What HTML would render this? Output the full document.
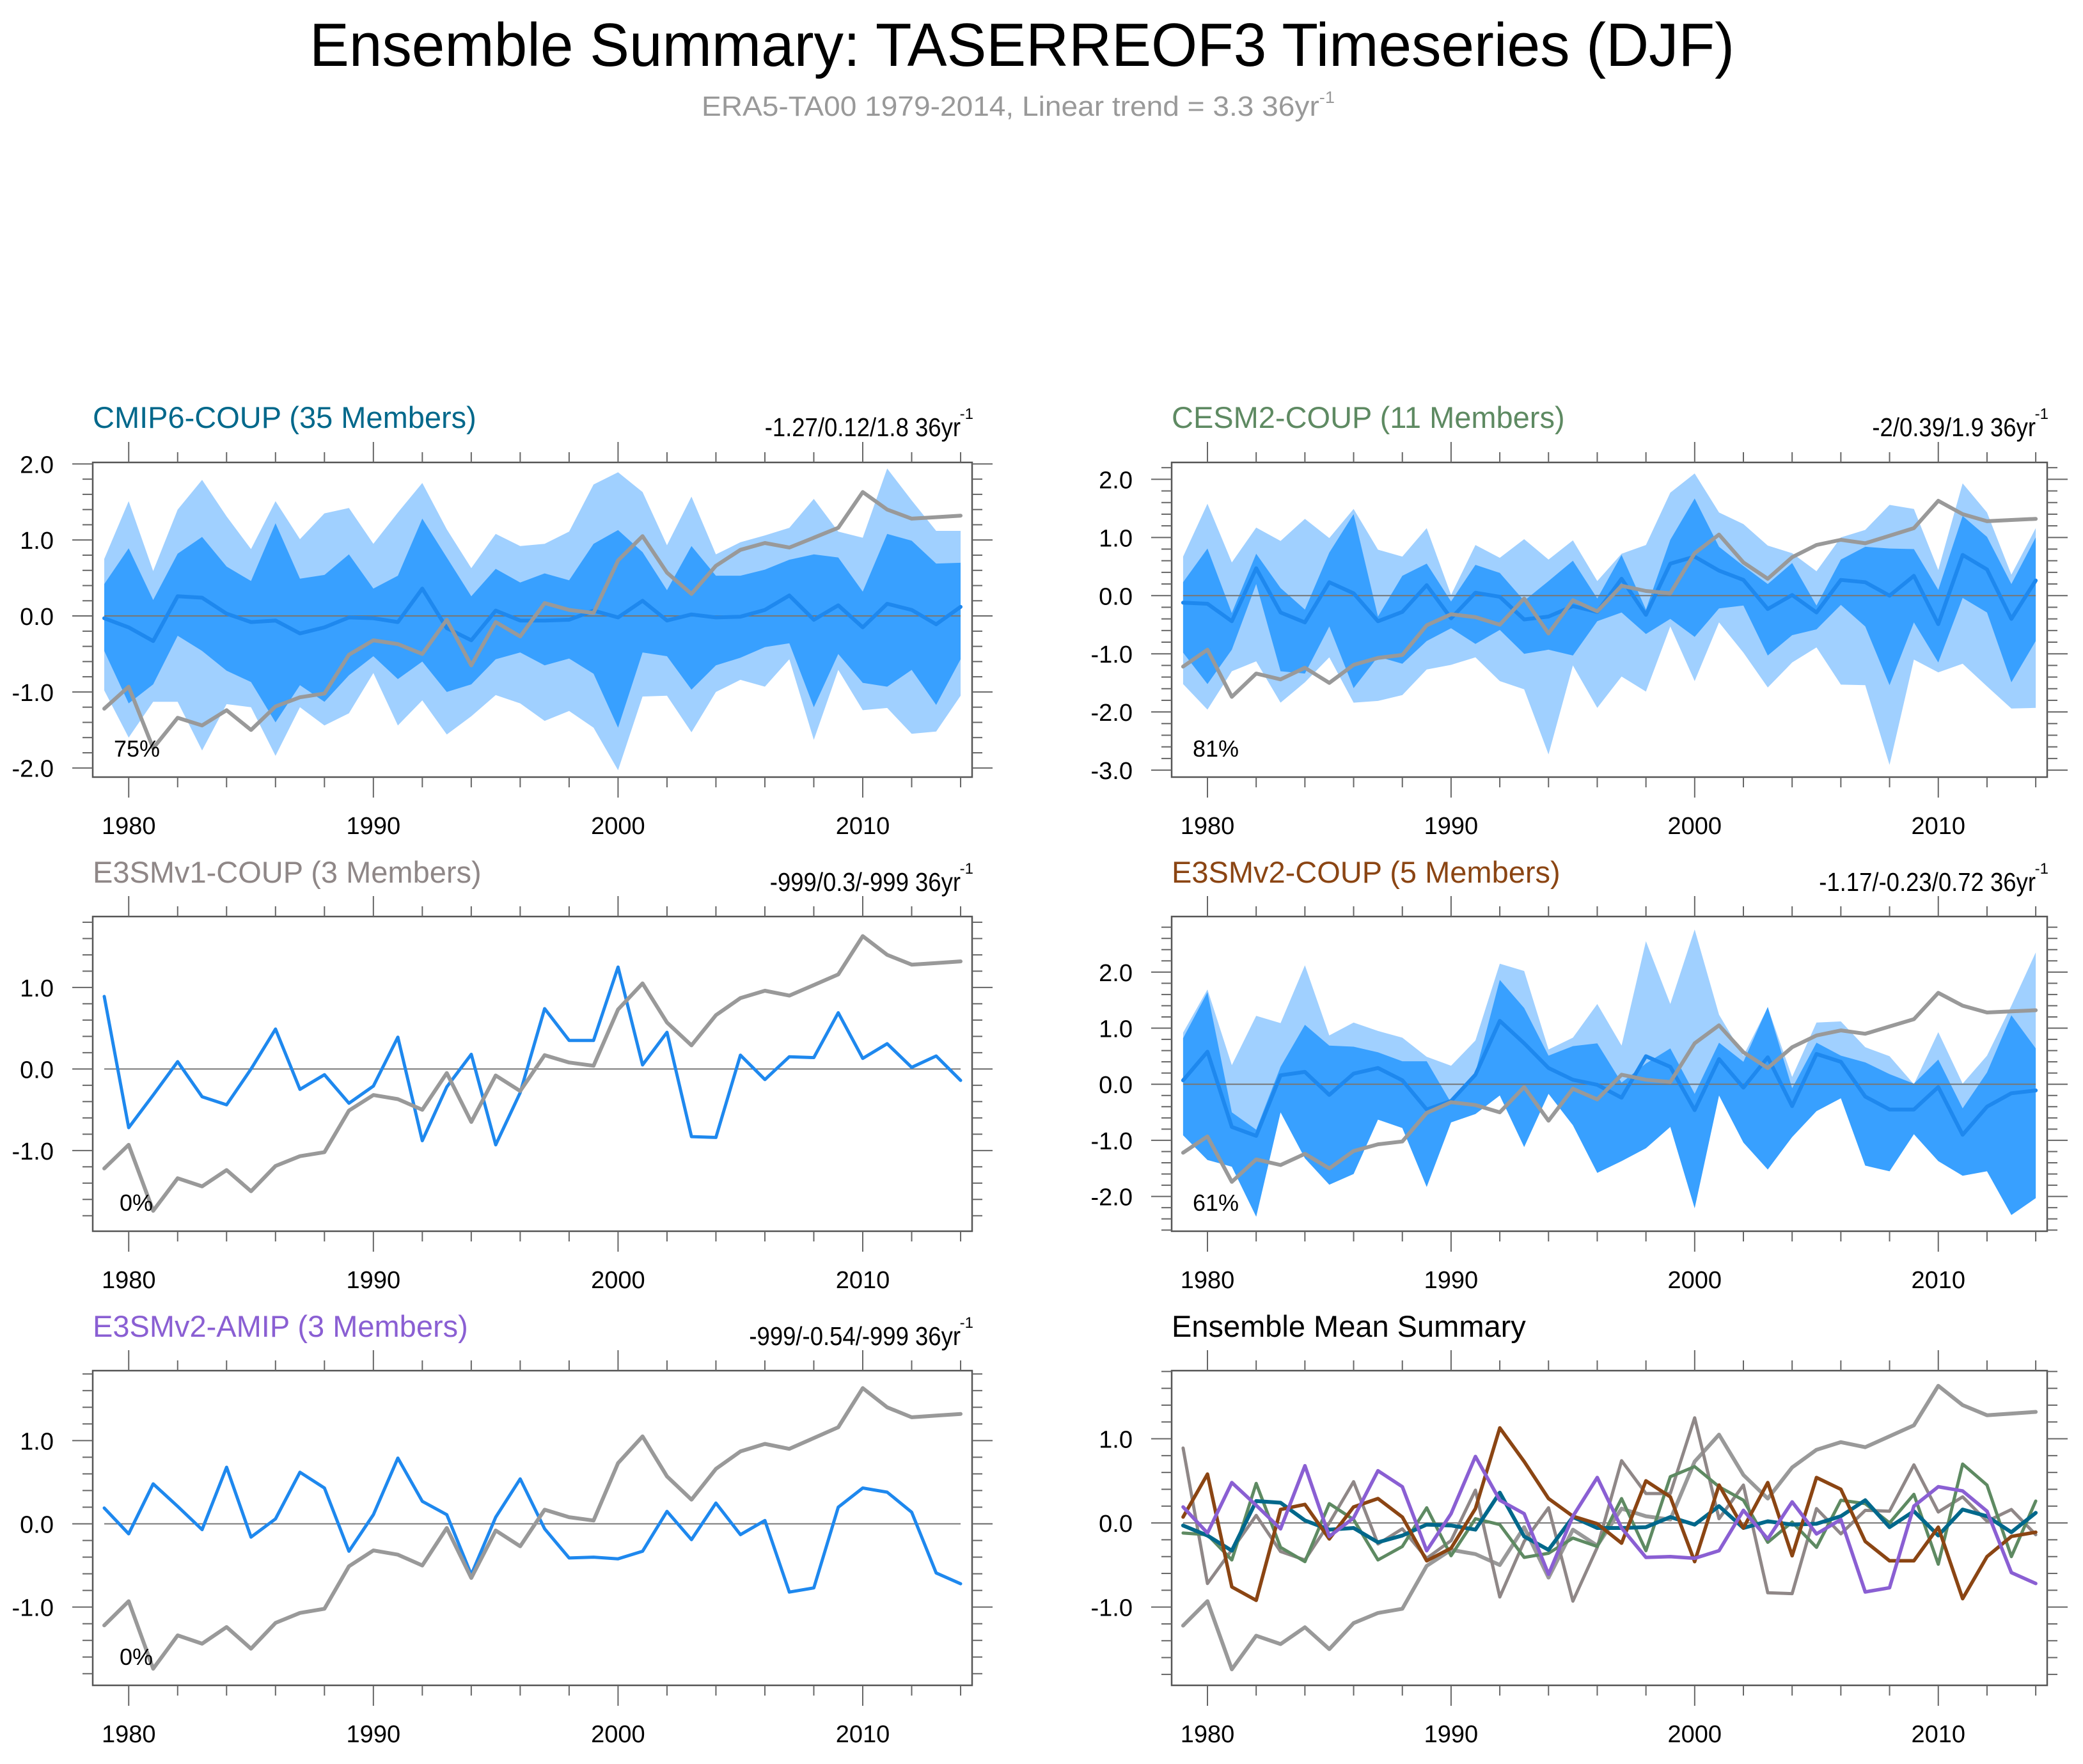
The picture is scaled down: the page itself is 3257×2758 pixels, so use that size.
<!DOCTYPE html>
<html><head><meta charset="utf-8"><style>
html,body{margin:0;padding:0;background:#fff;}
svg{display:block;font-family:"Liberation Sans",Arial,sans-serif;}
</style></head><body>
<svg id="chart" xmlns="http://www.w3.org/2000/svg" width="3257" height="2758" viewBox="0 0 3257 2758">
<rect width="3257" height="2758" fill="#fff"/>
<text x="1598" y="103" font-size="96" text-anchor="middle" textLength="2228" lengthAdjust="spacingAndGlyphs" fill="#000">Ensemble Summary: TASERREOF3 Timeseries (DJF)</text>
<text x="1097" y="181" font-size="44" fill="#999" textLength="990" lengthAdjust="spacingAndGlyphs">ERA5-TA00 1979-2014, Linear trend = 3.3 36yr<tspan font-size="26" dy="-20">-1</tspan></text>
</svg>
<script>
const years=[];for(let y=1979;y<=2014;y++)years.push(y);
const obs=[-1.22,-0.93,-1.74,-1.34,-1.44,-1.24,-1.50,-1.19,-1.07,-1.02,-0.51,-0.32,-0.37,-0.50,-0.05,-0.65,-0.08,-0.27,0.17,0.08,0.04,0.73,1.05,0.57,0.29,0.66,0.87,0.96,0.90,1.03,1.16,1.63,1.40,1.28,1.30,1.32];
const cmipMean=[-0.03,-0.15,-0.33,0.26,0.24,0.03,-0.08,-0.06,-0.23,-0.15,-0.02,-0.03,-0.08,0.36,-0.16,-0.32,0.07,-0.06,-0.06,-0.05,0.07,-0.02,0.20,-0.06,0.02,-0.02,-0.01,0.08,0.27,-0.05,0.14,-0.15,0.16,0.08,-0.11,0.12];
const cmipLightHi=[0.75,1.51,0.59,1.40,1.79,1.31,0.88,1.51,1.01,1.35,1.42,0.95,1.36,1.75,1.14,0.63,1.08,0.92,0.95,1.11,1.73,1.89,1.63,0.93,1.57,0.81,0.97,1.06,1.16,1.54,1.11,1.03,1.94,1.52,1.12,1.12];
const cmipDarkHi=[0.42,0.89,0.21,0.82,1.04,0.65,0.46,1.22,0.49,0.54,0.81,0.36,0.53,1.28,0.77,0.26,0.62,0.44,0.56,0.47,0.95,1.13,0.84,0.34,0.92,0.53,0.53,0.61,0.74,0.81,0.77,0.32,1.08,0.99,0.69,0.70];
const cmipDarkLo=[-0.46,-1.15,-0.90,-0.26,-0.46,-0.72,-0.87,-1.40,-0.91,-1.13,-0.78,-0.53,-0.83,-0.60,-1.00,-0.90,-0.57,-0.48,-0.65,-0.56,-0.76,-1.47,-0.48,-0.53,-0.97,-0.65,-0.55,-0.41,-0.36,-1.20,-0.50,-0.88,-0.93,-0.71,-1.17,-0.57];
const cmipLightLo=[-0.98,-1.60,-1.13,-1.13,-1.77,-1.16,-1.20,-1.84,-1.20,-1.44,-1.28,-0.75,-1.44,-1.11,-1.56,-1.32,-1.04,-1.15,-1.38,-1.25,-1.47,-2.03,-1.06,-1.05,-1.53,-1.00,-0.84,-0.93,-0.57,-1.63,-0.71,-1.24,-1.21,-1.55,-1.52,-1.05];
const cesmMean=[-0.12,-0.14,-0.44,0.47,-0.29,-0.46,0.23,0.04,-0.44,-0.28,0.18,-0.39,0.05,-0.02,-0.41,-0.36,-0.18,-0.28,0.29,-0.33,0.55,0.67,0.43,0.27,-0.23,0.01,-0.29,0.27,0.23,0.00,0.34,-0.49,0.70,0.45,-0.40,0.26];
const cesmLightHi=[0.67,1.58,0.57,1.17,0.94,1.32,0.99,1.49,0.79,0.67,1.16,0.01,0.87,0.65,0.97,0.62,0.95,0.25,0.72,0.87,1.77,2.10,1.43,1.23,0.86,0.73,0.42,1.00,1.13,1.56,1.49,0.44,1.93,1.43,0.36,1.16];
const cesmDarkHi=[0.23,0.81,-0.30,0.72,0.13,-0.24,0.74,1.40,-0.36,0.34,0.55,-0.10,0.53,0.39,-0.09,0.25,0.60,-0.05,0.70,-0.24,0.96,1.67,0.84,0.51,0.20,0.56,-0.17,0.62,0.84,0.81,0.80,0.10,1.37,1.01,0.20,1.00];
const cesmDarkLo=[-0.98,-1.52,-0.93,0.20,-1.30,-1.34,-0.53,-1.59,-1.05,-1.17,-0.78,-0.56,-0.83,-0.59,-1.00,-0.93,-1.03,-0.44,-0.29,-0.66,-0.40,-0.71,-0.22,-0.17,-1.03,-0.68,-0.58,-0.16,-0.53,-1.54,-0.46,-1.15,-0.04,-0.29,-1.49,-0.78];
const cesmLightLo=[-1.52,-1.96,-1.30,-1.13,-1.84,-1.49,-1.06,-1.84,-1.81,-1.71,-1.27,-1.19,-1.06,-1.47,-1.61,-2.73,-1.20,-1.93,-1.39,-1.65,-0.53,-1.47,-0.46,-0.98,-1.58,-1.15,-0.89,-1.53,-1.54,-2.91,-1.10,-1.32,-1.17,-1.56,-1.94,-1.93];
const v1Mean=[0.89,-0.72,-0.32,0.09,-0.34,-0.44,0.00,0.49,-0.25,-0.07,-0.42,-0.21,0.39,-0.88,-0.22,0.18,-0.93,-0.29,0.74,0.35,0.35,1.25,0.05,0.45,-0.83,-0.84,0.17,-0.13,0.15,0.14,0.69,0.13,0.31,0.02,0.16,-0.14];
const v2Mean=[0.07,0.58,-0.76,-0.92,0.16,0.22,-0.19,0.19,0.29,0.07,-0.45,-0.30,0.17,1.13,0.73,0.29,0.08,-0.01,-0.24,0.50,0.31,-0.46,0.45,-0.06,0.48,-0.39,0.54,0.40,-0.22,-0.45,-0.45,-0.05,-0.90,-0.40,-0.16,-0.11];
const v2LightHi=[0.92,1.69,0.34,1.22,1.09,2.12,0.87,1.10,0.95,0.83,0.49,0.33,0.78,2.15,2.02,0.62,0.83,1.43,0.69,2.55,1.43,2.76,1.24,0.51,1.37,0.13,1.10,1.12,0.66,0.50,0.00,0.93,0.01,0.51,1.40,2.35];
const v2DarkHi=[0.82,1.64,-0.50,-0.81,0.31,1.06,0.69,0.67,0.57,0.41,0.41,-0.33,0.21,1.86,1.36,0.51,0.68,0.73,0.03,0.37,0.64,-0.17,0.74,0.40,1.38,-0.07,0.74,0.51,0.39,0.18,0.01,0.44,-0.43,0.21,1.23,0.64];
const v2DarkLo=[-0.91,-1.35,-1.47,-2.36,-0.50,-1.32,-1.79,-1.60,-0.63,-0.78,-1.83,-0.68,-0.53,-0.20,-1.12,-0.17,-0.73,-1.58,-1.37,-1.14,-0.76,-2.21,-0.20,-1.04,-1.52,-0.94,-0.48,-0.25,-1.45,-1.55,-0.89,-1.37,-1.63,-1.55,-2.33,-2.03];
const v2LightLo=v2DarkLo.slice();
const amipMean=[0.19,-0.12,0.48,0.21,-0.07,0.68,-0.16,0.06,0.62,0.43,-0.33,0.11,0.79,0.27,0.11,-0.61,0.08,0.54,-0.06,-0.41,-0.40,-0.42,-0.33,0.15,-0.19,0.25,-0.13,0.04,-0.82,-0.77,0.20,0.43,0.38,0.14,-0.59,-0.72];

const NS="http://www.w3.org/2000/svg";
const svg=document.getElementById('chart');
function mk(tag,attrs,parent){const e=document.createElementNS(NS,tag);for(const k in attrs)e.setAttribute(k,attrs[k]);(parent||svg).appendChild(e);return e;}

const LIGHT="#a0d0ff",DARK="#38a0ff",MEANC="#1e88ee",OBSC="#999999";
const panels=[
 {id:'cmip6',x0:145,x1:1520,y0:723,y1:1215,ymin:-2.12,ymax:2.02,lab:[-2,-1,0,1,2],title:'CMIP6-COUP (35 Members)',tc:'#00688b',trend:'-1.27/0.12/1.8 36yr',pct:'75%',bands:[cmipLightHi,cmipLightLo,cmipDarkHi,cmipDarkLo],mean:cmipMean,tb:669},
 {id:'cesm2',x0:1832,x1:3201,y0:723,y1:1215,ymin:-3.12,ymax:2.29,lab:[-3,-2,-1,0,1,2],title:'CESM2-COUP (11 Members)',tc:'#5e8a62',trend:'-2/0.39/1.9 36yr',pct:'81%',bands:[cesmLightHi,cesmLightLo,cesmDarkHi,cesmDarkLo],mean:cesmMean,tb:669},
 {id:'e3smv1',x0:145,x1:1520,y0:1433,y1:1925,ymin:-1.99,ymax:1.87,lab:[-1,0,1],title:'E3SMv1-COUP (3 Members)',tc:'#8f8787',trend:'-999/0.3/-999 36yr',pct:'0%',mean:v1Mean,tb:1380},
 {id:'e3smv2',x0:1832,x1:3201,y0:1433,y1:1925,ymin:-2.62,ymax:2.99,lab:[-2,-1,0,1,2],title:'E3SMv2-COUP (5 Members)',tc:'#8b4513',trend:'-1.17/-0.23/0.72 36yr',pct:'61%',bands:[v2LightHi,v2LightLo,v2DarkHi,v2DarkLo],mean:v2Mean,tb:1380},
 {id:'amip',x0:145,x1:1520,y0:2143,y1:2635,ymin:-1.94,ymax:1.84,lab:[-1,0,1],title:'E3SMv2-AMIP (3 Members)',tc:'#8a5fd3',trend:'-999/-0.54/-999 36yr',pct:'0%',mean:amipMean,tb:2090},
 {id:'summary',x0:1832,x1:3201,y0:2143,y1:2635,ymin:-1.93,ymax:1.81,lab:[-1,0,1],title:'Ensemble Mean Summary',tc:'#000',trend:null,pct:null,tb:2090}
];
const XMIN=1978.53,XMAX=2014.47;

panels.forEach(p=>{
 const g=mk('g',{});
 
 
 const X=v=>p.x0+(v-XMIN)/(XMAX-XMIN)*(p.x1-p.x0);
 const Y=v=>p.y1-(v-p.ymin)/(p.ymax-p.ymin)*(p.y1-p.y0);
 const clip=mk('clipPath',{id:'clip-'+p.id},g);
 mk('rect',{x:p.x0,y:p.y0,width:p.x1-p.x0,height:p.y1-p.y0},clip);
 const plot=mk('g',{'clip-path':'url(#clip-'+p.id+')'},g);
 if(p.bands){
  const band=(hi,lo,col,nm)=>{
   let d='M'+years.map((y,i)=>X(y).toFixed(1)+','+Y(hi[i]).toFixed(1)).join('L');
   d+='L'+years.slice().reverse().map((y,j)=>{const i=years.length-1-j;return X(y).toFixed(1)+','+Y(lo[i]).toFixed(1);}).join('L')+'Z';
   const e=mk('path',{d:d,fill:col,stroke:'none'},plot);
   
   
  };
  band(p.bands[0],p.bands[1],LIGHT,p.id+'-outer-spread-band');
  band(p.bands[2],p.bands[3],DARK,p.id+'-inner-spread-band');
 }
 const zl=mk('line',{x1:X(1979),x2:X(2014),y1:Y(0),y2:Y(0),stroke:'#777','stroke-width':2},plot);
 
 
 const line=(arr,col,w,nm)=>{
  const e=mk('polyline',{points:years.map((y,i)=>X(y).toFixed(1)+','+Y(arr[i]).toFixed(1)).join(' '),fill:'none',stroke:col,'stroke-width':w,'stroke-linejoin':'round','stroke-linecap':'round'},plot);
  
  
 };
 if(p.id==='summary'){
  line(obs,OBSC,6,'summary-obs-line');
  line(v1Mean,'#8f8787',5,'summary-e3smv1-line');
  line(cesmMean,'#5e8a62',5,'summary-cesm2-line');
  line(cmipMean,'#00688b',6,'summary-cmip6-line');
  line(v2Mean,'#8b4513',5.5,'summary-e3smv2-coup-line');
  line(amipMean,'#8a5fd3',5.5,'summary-e3smv2-amip-line');
 } else {
  line(p.mean,MEANC,p.bands?6:5,p.id+'-ensemble-mean-line');
  line(obs,OBSC,6,p.id+'-obs-line');
 }
 const box=mk('rect',{x:p.x0,y:p.y0,width:p.x1-p.x0,height:p.y1-p.y0,fill:'none',stroke:'#555','stroke-width':2.5},g);
 
 
 for(let y=1980;y<=2014;y+=2){
  const maj=(y%10===0), L=maj?32:16, xx=X(y);
  mk('line',{x1:xx,x2:xx,y1:p.y1,y2:p.y1+L,stroke:'#666','stroke-width':2},g);
  mk('line',{x1:xx,x2:xx,y1:p.y0,y2:p.y0-L,stroke:'#666','stroke-width':2},g);
  if(maj){
   const t=mk('text',{x:xx,y:p.y1+89,'font-size':38,'text-anchor':'middle',fill:'#000'},g);
   t.textContent=y;
   
   
  }
 }
 const s=Math.ceil(p.ymin*5-1e-6), e=Math.floor(p.ymax*5+1e-6);
 for(let k=s;k<=e;k++){
  const v=k/5, maj=(k%5===0), L=maj?32:16, yy=Y(v);
  mk('line',{x1:p.x0-L,x2:p.x0,y1:yy,y2:yy,stroke:'#666','stroke-width':2},g);
  mk('line',{x1:p.x1,x2:p.x1+L,y1:yy,y2:yy,stroke:'#666','stroke-width':2},g);
 }
 p.lab.forEach(v=>{
  const t=mk('text',{x:p.x0-61,y:Y(v)+14,'font-size':38,'text-anchor':'end',fill:'#000'},g);
  t.textContent=v.toFixed(1);
  
  
 });
 const tt=mk('text',{x:p.x0,y:p.tb,'font-size':47,fill:p.tc},g);
 tt.textContent=p.title;
 
 
 if(p.trend){
  const tr=mk('text',{x:p.x1-18,y:p.tb+13,'font-size':41,'text-anchor':'end',fill:'#000'},g);
  tr.textContent=p.trend;
  
  
  try{const L=tr.getComputedTextLength();tr.setAttribute('textLength',(L*0.89).toFixed(1));tr.setAttribute('lengthAdjust','spacingAndGlyphs');}catch(err){}
  const sup=mk('text',{x:p.x1+2,y:p.tb-14,'font-size':24,'text-anchor':'end',fill:'#000'},g);
  sup.textContent='-1';
  
  
 }
 if(p.pct){
  const pc=mk('text',{x:p.x0+(p.pct.length===2?42:33),y:p.y1-32,'font-size':36,fill:'#000'},g);
  pc.textContent=p.pct;
  
  
 }
});
</script>
</body></html>
